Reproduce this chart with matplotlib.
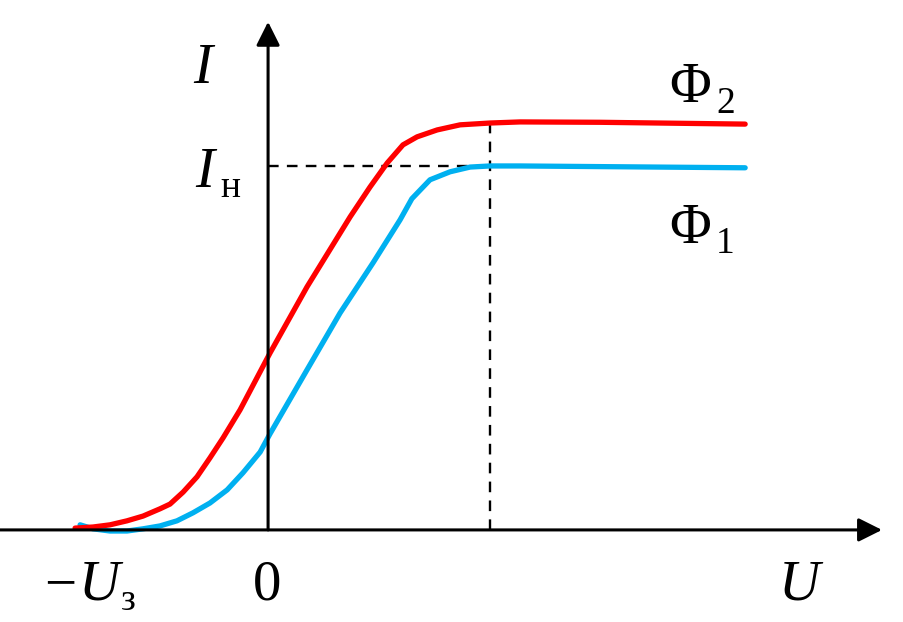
import matplotlib
matplotlib.use("Agg")
import matplotlib.pyplot as plt
import matplotlib.transforms as mtransforms

plt.rcParams['font.family'] = ['Liberation Serif', 'DejaVu Serif']

# current-voltage curves of a photocell, U in units of U_stop, I in units of I_sat
u_red = [-1.000, -0.907, -0.819, -0.731, -0.648, -0.560, -0.508, -0.440, -0.368,
         -0.301, -0.233, -0.145, 0.010, 0.202, 0.425, 0.528, 0.617, 0.699,
         0.772, 0.876, 0.995, 1.150, 1.306, 1.720, 2.472]
i_red = [0.005, 0.008, 0.014, 0.025, 0.038, 0.058, 0.071, 0.104, 0.146,
         0.198, 0.253, 0.330, 0.486, 0.668, 0.860, 0.942, 1.008, 1.058,
         1.080, 1.099, 1.113, 1.118, 1.121, 1.120, 1.115]

u_blue = [-0.974, -0.907, -0.819, -0.731, -0.648, -0.560, -0.472, -0.389, -0.301,
          -0.212, -0.130, -0.041, 0.010, 0.202, 0.373, 0.544, 0.684, 0.745,
          0.839, 0.943, 1.047, 1.150, 1.306, 2.472]
i_blue = [0.014, 0.003, -0.003, -0.003, 0.003, 0.011, 0.025, 0.047, 0.074,
          0.110, 0.157, 0.214, 0.264, 0.440, 0.596, 0.734, 0.852, 0.910,
          0.962, 0.984, 0.997, 1.0, 1.0, 0.995]

u_sat = 1.150   # voltage where saturation is reached
i_sat = 1.0     # saturation current of the blue curve
i_red_sat = 1.118

fig = plt.figure(figsize=(9.04, 6.22), dpi=100)
ax = fig.add_axes([0, 0, 1, 1])
ax.set_xlim(-1.389, 3.295)
ax.set_ylim(-0.253, 1.456)
ax.axis('off')

# axes with arrows
arrow = dict(arrowstyle='-|>,head_length=0.4,head_width=0.2', lw=2.2, color='k',
             mutation_scale=36, shrinkA=0, shrinkB=0)
ax.annotate('', xy=(3.181, 0), xytext=(-1.389, 0), arrowprops=arrow)
ax.annotate('', xy=(0, 1.396), xytext=(0, 0), arrowprops=arrow)

# dashed guides
ax.plot([0, u_sat], [i_sat, i_sat], color='k', lw=1.7, ls=(0, (4.5, 3.5)))
ax.plot([u_sat, u_sat], [0, i_red_sat], color='k', lw=1.7, ls=(0, (4.5, 3.5)))

ax.plot(u_blue, i_blue, color='#00b0f0', lw=3.8, solid_joinstyle='round',
        solid_capstyle='round')
ax.plot(u_red, i_red, color='#ff0000', lw=3.8, solid_joinstyle='round',
        solid_capstyle='round')

# labels placed in pixel coordinates (top-left origin)
px = mtransforms.Affine2D().scale(1 / 904, -1 / 622).translate(0, 1) + fig.transFigure
fs, fs_sub = 41, 27
def label(x, y, s, size=fs, style='normal', ha='center'):
    ax.text(x, y, s, transform=px, fontsize=size, fontstyle=style,
            ha=ha, va='baseline')

label(203, 83, 'I', style='italic')
label(205, 187, 'I', style='italic')
label(220, 197, 'н', size=fs_sub, ha='left')
label(690, 102, 'Φ')
label(716, 113, '2', size=fs_sub, ha='left')
label(690, 243, 'Φ')
label(716, 253, '1', size=fs_sub, ha='left')
label(60, 600, '−')
label(99, 600, 'U', style='italic')
label(121, 610, 'з', size=fs_sub, ha='left')
label(267, 600, '0')
label(799, 600, 'U', style='italic')

fig.savefig('out.png', dpi=100)
